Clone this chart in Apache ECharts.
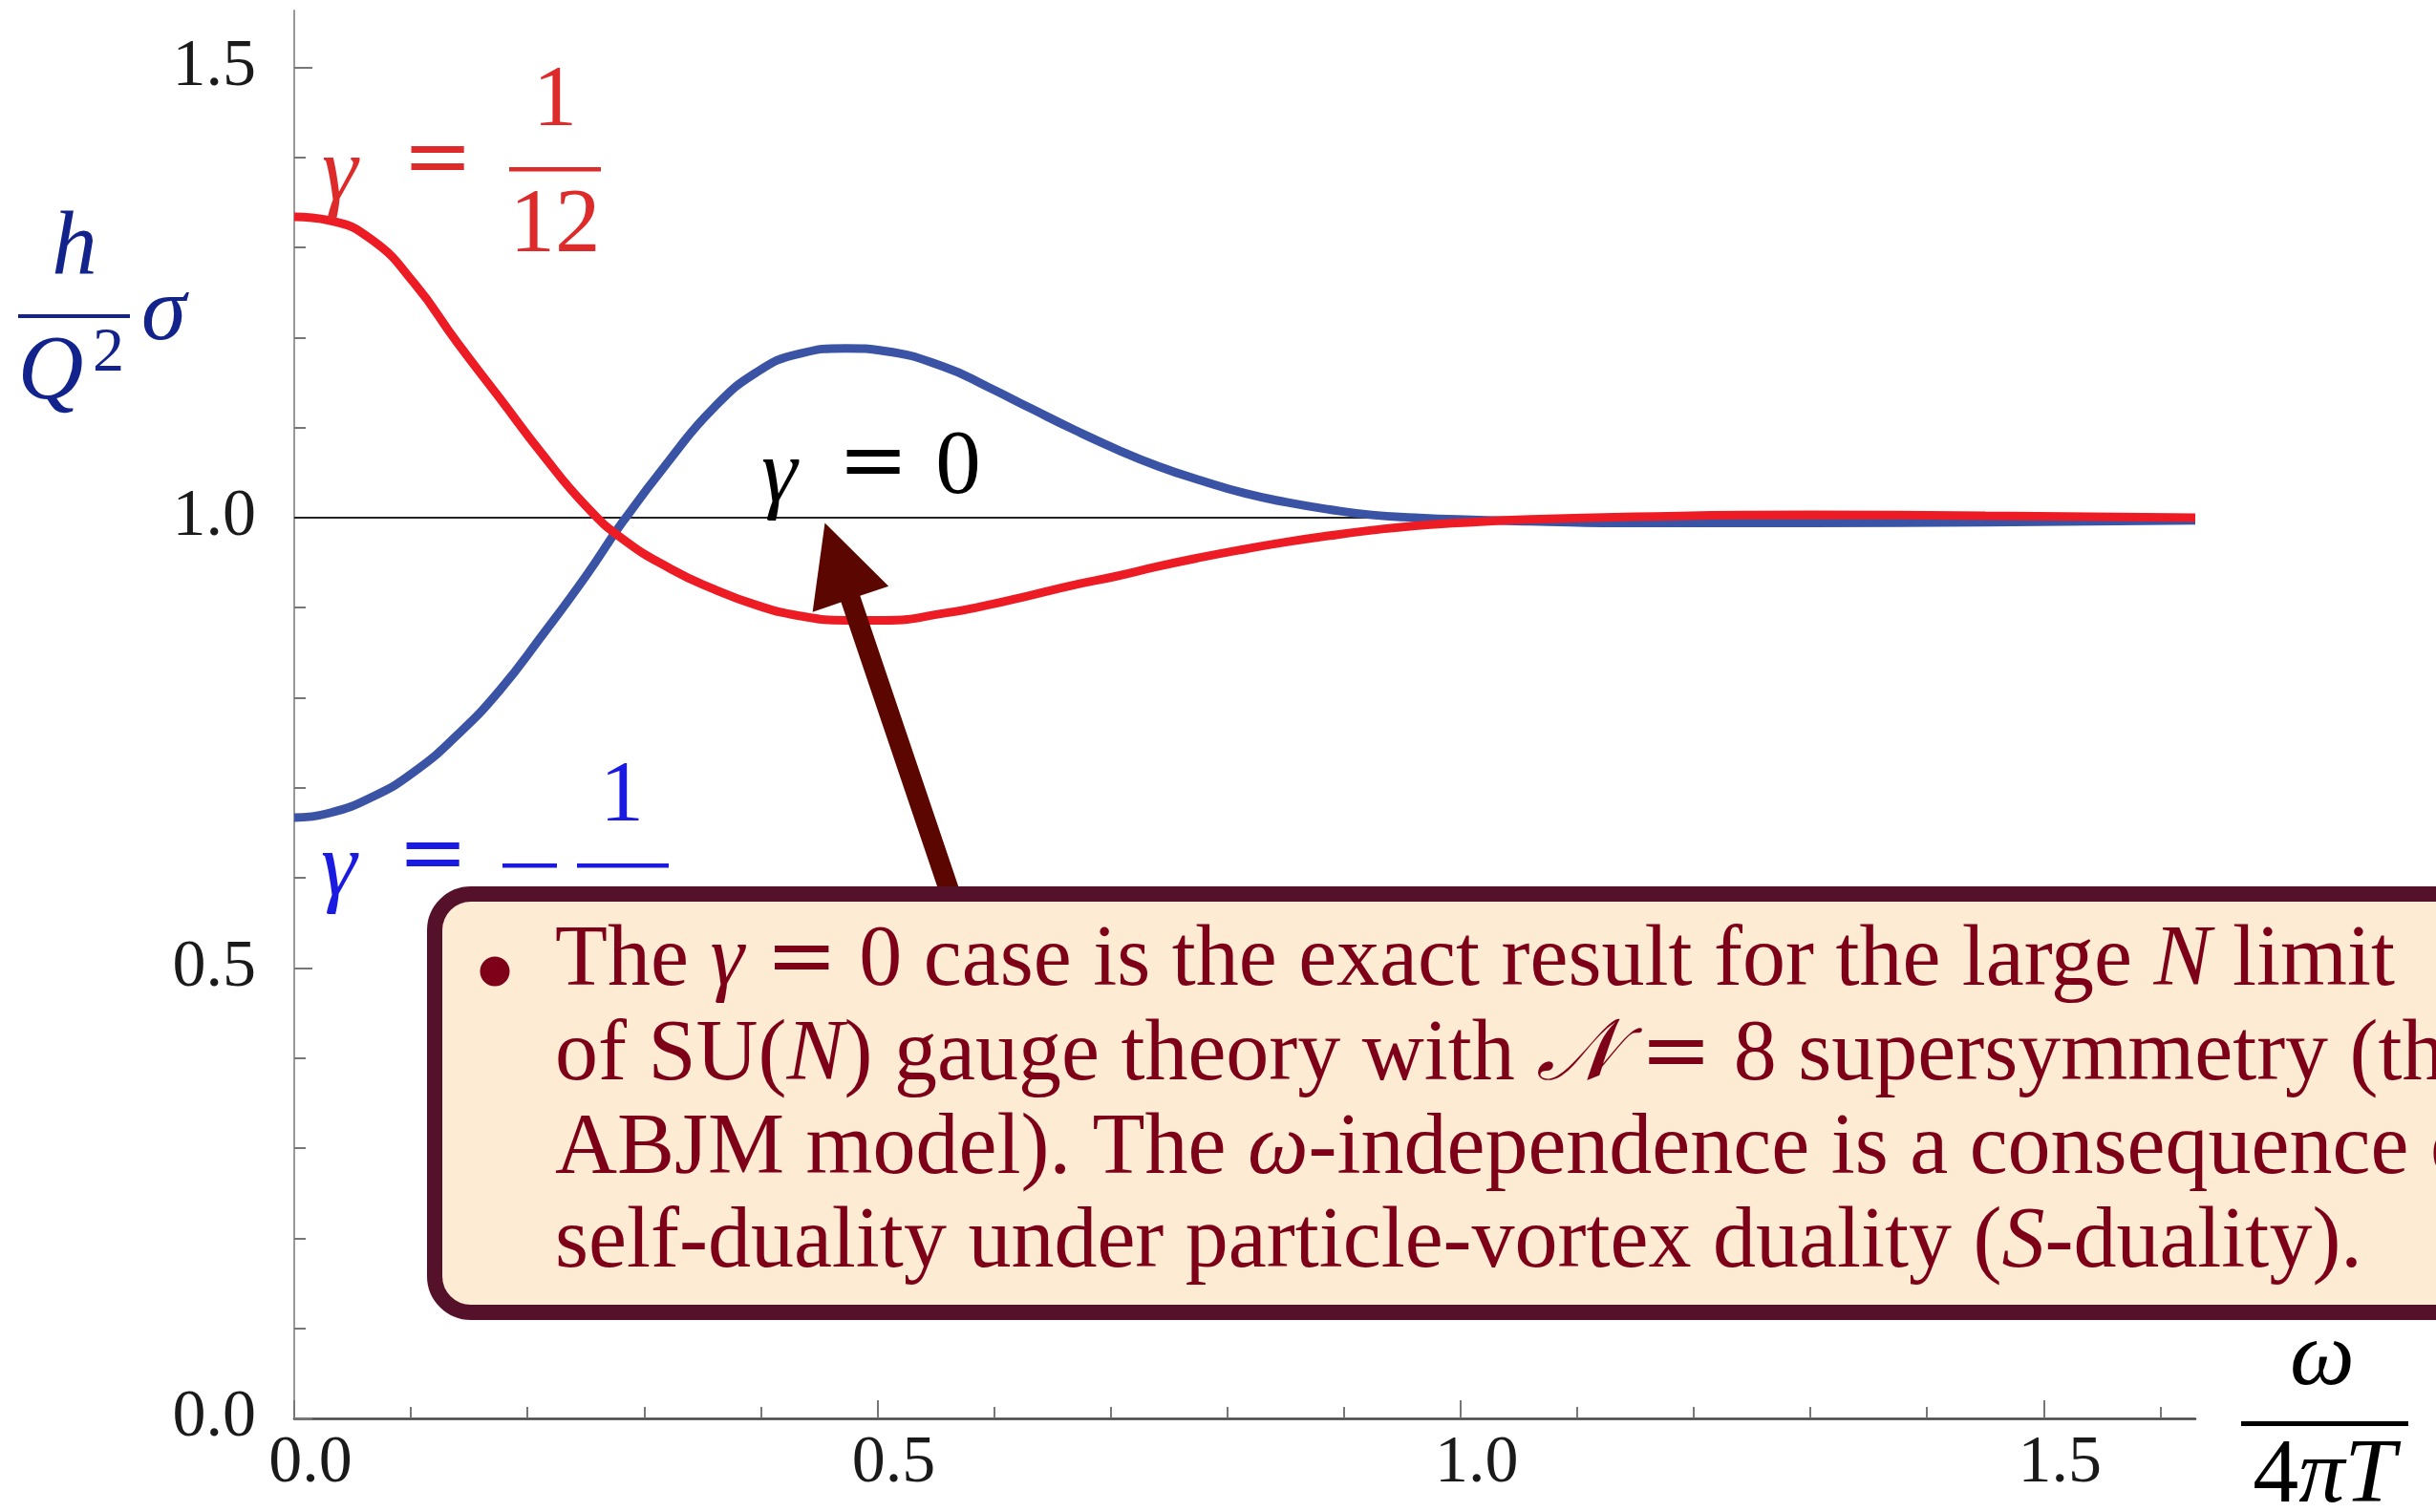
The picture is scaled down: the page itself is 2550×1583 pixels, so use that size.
<!DOCTYPE html>
<html>
<head>
<meta charset="utf-8">
<script src="https://cdn.jsdelivr.net/npm/echarts@6/dist/echarts.min.js"></script>
<style>
  html, body { margin: 0; padding: 0; background: #ffffff; }
  #chart { width: 2550px; height: 1583px; }
</style>
</head>
<body>
<div id="chart"></div>
<script>
// axis ticks
const xMajorTicks = [0, 0.5, 1.0, 1.5];
const xMinorTicks = [0.1, 0.2, 0.3, 0.4, 0.6, 0.7, 0.8, 0.9, 1.1, 1.2, 1.3, 1.4, 1.6];
const yMajorTicks = [0, 0.5, 1.0, 1.5];
const yMinorTicks = [0.1, 0.2, 0.3, 0.4, 0.6, 0.7, 0.8, 0.9, 1.1, 1.2, 1.3, 1.4];
const xMax = 1.63;
const yMax = 1.563;

// omega / 4 pi T
const omega = [0, 0.03, 0.067, 0.103, 0.14, 0.176, 0.213, 0.25, 0.282, 0.323, 0.359, 0.396,
  0.433, 0.473, 0.506, 0.558, 0.595, 0.632, 0.668, 0.705, 0.741, 0.778, 0.815, 0.851,
  0.888, 0.924, 0.961, 0.997, 1.06, 1.15, 1.3, 1.45, 1.63];

// gamma = 1/12 (red)
const sigmaPlus = [1.334, 1.330, 1.308, 1.260, 1.194, 1.133, 1.070, 1.013, 0.976, 0.943, 0.921, 0.903,
  0.891, 0.886, 0.886, 0.894, 0.903, 0.914, 0.925, 0.935, 0.946, 0.956, 0.965, 0.973,
  0.980, 0.986, 0.991, 0.994, 0.998, 1.001, 1.003, 1.002, 1.000];

// gamma = -1/12 (blue)
const sigmaMinus = [0.667, 0.672, 0.690, 0.718, 0.759, 0.808, 0.870, 0.935, 0.996, 1.066, 1.121, 1.161,
  1.182, 1.188, 1.185, 1.167, 1.145, 1.121, 1.098, 1.076, 1.057, 1.041, 1.027, 1.017,
  1.009, 1.003, 1.000, 0.998, 0.996, 0.994, 0.994, 0.995, 0.997];

// gamma = 0 (black): sigma is exactly 1
const omegaFlat = [0, 1.63];
const sigmaFlat = [1, 1];

// arrow annotation, in data coordinates
const arrowTip = [0.455, 0.994];
const arrowTail = [0.571, 0.55];

const SERIF = '"Liberation Serif", "Times New Roman", serif';
const WIDE = '"DejaVu Serif", serif';

function pairs(xs, ys) {
  return xs.map((x, i) => [x, ys[i]]);
}

// text placed by its baseline
function txt(text, x, baseline, size, color, opts) {
  opts = opts || {};
  return {
    type: 'text',
    z: opts.z || 50,
    x: x,
    y: baseline - 0.34 * size,
    style: {
      text: text,
      fontSize: size,
      fontFamily: opts.family || SERIF,
      fontStyle: opts.italic ? 'italic' : 'normal',
      fill: color,
      align: opts.align || 'center',
      verticalAlign: 'middle',
      rich: opts.rich
    }
  };
}

function bar(x, y, w, h, color, z) {
  return { type: 'rect', z: z || 50, shape: { x: x, y: y, width: w, height: h }, style: { fill: color } };
}

const chart = echarts.init(document.getElementById('chart'), null, { renderer: 'canvas' });

const axisFont = { fontFamily: SERIF, fontSize: 70, color: '#1a1a1a' };

chart.setOption({
  backgroundColor: '#ffffff',
  animation: false,
  grid: { left: 308, right: 252, top: 11, bottom: 98 },
  xAxis: [
    {
      type: 'value', min: 0, max: xMax, position: 'bottom',
      axisLine: { show: true, onZero: false, lineStyle: { color: '#444', width: 2.5 } },
      axisTick: { show: true, inside: true, length: 12, customValues: xMinorTicks, lineStyle: { color: '#777', width: 2 } },
      axisLabel: { show: false },
      splitLine: { show: false }
    },
    {
      type: 'value', min: 0, max: xMax, position: 'bottom',
      axisLine: { show: false },
      axisTick: { show: true, inside: true, length: 19, customValues: xMajorTicks, lineStyle: { color: '#777', width: 2 } },
      axisLabel: Object.assign({ customValues: xMajorTicks, margin: 13, padding: [0, 0, 0, 34],
        formatter: (v) => v.toFixed(1) }, axisFont),
      splitLine: { show: false }
    }
  ],
  yAxis: [
    {
      type: 'value', min: 0, max: yMax, position: 'left',
      axisLine: { show: true, onZero: false, lineStyle: { color: '#999', width: 2 } },
      axisTick: { show: true, inside: true, length: 12, customValues: yMinorTicks, lineStyle: { color: '#777', width: 2 } },
      axisLabel: { show: false },
      splitLine: { show: false }
    },
    {
      type: 'value', min: 0, max: yMax, position: 'left',
      axisLine: { show: false },
      axisTick: { show: true, inside: true, length: 19, customValues: yMajorTicks, lineStyle: { color: '#777', width: 2 } },
      axisLabel: Object.assign({ customValues: yMajorTicks, margin: 40, padding: [0, 0, 12, 0],
        formatter: (v) => v.toFixed(1) }, axisFont),
      splitLine: { show: false }
    }
  ],
  series: [
    {
      name: 'γ = 0', type: 'line', xAxisIndex: 0, yAxisIndex: 0,
      data: pairs(omegaFlat, sigmaFlat), showSymbol: false, z: 2,
      lineStyle: { color: '#222', width: 2 }
    },
    {
      name: 'γ = -1/12', type: 'line', xAxisIndex: 0, yAxisIndex: 0,
      data: pairs(omega, sigmaMinus), showSymbol: false, smooth: 0.5, z: 3,
      lineStyle: { color: '#3a53a4', width: 9 }
    },
    {
      name: 'γ = 1/12', type: 'line', xAxisIndex: 0, yAxisIndex: 0,
      data: pairs(omega, sigmaPlus), showSymbol: false, smooth: 0.5, z: 4,
      lineStyle: { color: '#ed1c24', width: 9 }
    }
  ]
});

// arrow geometry from data coordinates
const tip = chart.convertToPixel({ xAxisIndex: 0, yAxisIndex: 0 }, arrowTip);
const tail = chart.convertToPixel({ xAxisIndex: 0, yAxisIndex: 0 }, arrowTail);
const dx = tip[0] - tail[0], dy = tip[1] - tail[1];
const len = Math.sqrt(dx * dx + dy * dy);
const ux = dx / len, uy = dy / len;
const nx = -uy, ny = ux;
const headLen = 84, headHalf = 42, shaftHalf = 10.5;
const bx = tip[0] - ux * headLen, by = tip[1] - uy * headLen;
const arrowPoints = [
  [tip[0], tip[1]],
  [bx + nx * headHalf, by + ny * headHalf],
  [bx + nx * shaftHalf, by + ny * shaftHalf],
  [tail[0] + nx * shaftHalf, tail[1] + ny * shaftHalf],
  [tail[0] - nx * shaftHalf, tail[1] - ny * shaftHalf],
  [bx - nx * shaftHalf, by - ny * shaftHalf],
  [bx - nx * headHalf, by - ny * headHalf]
];

const navy = '#13238c';
const red = '#dd2b2b';
const blue = '#1a1ae0';
const boxText = '#7d0018';
const BOX_FS = 90;

const boxRich = {
  r: { fontSize: BOX_FS, fontFamily: SERIF, fill: boxText },
  i: { fontSize: BOX_FS, fontFamily: SERIF, fontStyle: 'italic', fill: boxText },
  e: { fontSize: BOX_FS, fontFamily: WIDE, fill: boxText },
  c: { fontSize: BOX_FS, fontFamily: '"DejaVu Serif", "DejaVu Sans", serif', fontStyle: 'italic', fill: boxText }
};

function boxLine(str, baseline) {
  return txt(str, 581, baseline, BOX_FS, boxText, { align: 'left', z: 120, rich: boxRich });
}

chart.setOption({
  graphic: [
    // y axis label: h / Q^2 sigma
    txt('h', 78, 294, 95, navy, { italic: true }),
    bar(19, 329, 117, 4, navy),
    txt('Q', 53, 424, 95, navy, { italic: true }),
    txt('2', 97, 393, 66, navy, { align: 'left' }),
    txt('σ', 148, 362, 95, navy, { italic: true, align: 'left' }),

    // gamma = 1/12
    txt('γ', 337, 216, 95, red, { italic: true, align: 'left' }),
    txt('=', 458, 200, 88, red, { family: WIDE }),
    bar(533, 175, 96, 4.5, red),
    txt('1', 581, 138, 92, red),
    txt('12', 581, 270, 95, red),

    // gamma = -1/12
    txt('γ', 336, 944, 95, blue, { italic: true, align: 'left' }),
    txt('=', 453, 929, 88, blue, { family: WIDE }),
    bar(526, 904, 57, 4.5, blue),
    bar(604, 904, 96, 4.5, blue),
    txt('1', 651, 866, 92, blue),
    txt('12', 651, 1010, 95, blue),

    // gamma = 0
    txt('γ', 797, 532, 95, '#000', { italic: true, align: 'left' }),
    txt('=', 914, 518, 88, '#000', { family: WIDE }),
    txt('0', 1003, 523, 95, '#000'),

    // x axis label: omega / 4 pi T
    txt('ω', 2431, 1456, 96, '#000', { italic: true }),
    bar(2346, 1488, 175, 5, '#000'),
    txt('{r|4}{i|πT}', 2433, 1579, 96, '#000', { rich: {
      r: { fontSize: 96, fontFamily: SERIF, fill: '#000' },
      i: { fontSize: 96, fontFamily: SERIF, fontStyle: 'italic', fill: '#000' }
    } }),

    // arrow
    {
      type: 'polygon', z: 90,
      shape: { points: arrowPoints },
      style: { fill: '#5c0600' }
    },

    // note box
    {
      type: 'rect', z: 110,
      shape: { x: 455, y: 936, width: 2400, height: 438, r: 38 },
      style: { fill: '#fdebd4', stroke: '#56112a', lineWidth: 16 }
    },
    {
      type: 'circle', z: 120,
      shape: { cx: 518, cy: 1017, r: 15.5 },
      style: { fill: boxText }
    },
    boxLine('{r|The }{i|γ}{r| }{e|=}{r| 0 case is the exact result for the large }{i|N}{r| limit}', 1038),
    boxLine('{r|of SU(}{i|N}{r|) gauge theory with }{c|𝒩}{r| }{e|=}{r| 8 supersymmetry (the}', 1137),
    boxLine('{r|ABJM model). The }{i|ω}{r|-independence is a consequence of}', 1235),
    boxLine('{r|self-duality under particle-vortex duality (}{i|S}{r|-duality).}', 1333)
  ]
});
</script>
</body>
</html>
